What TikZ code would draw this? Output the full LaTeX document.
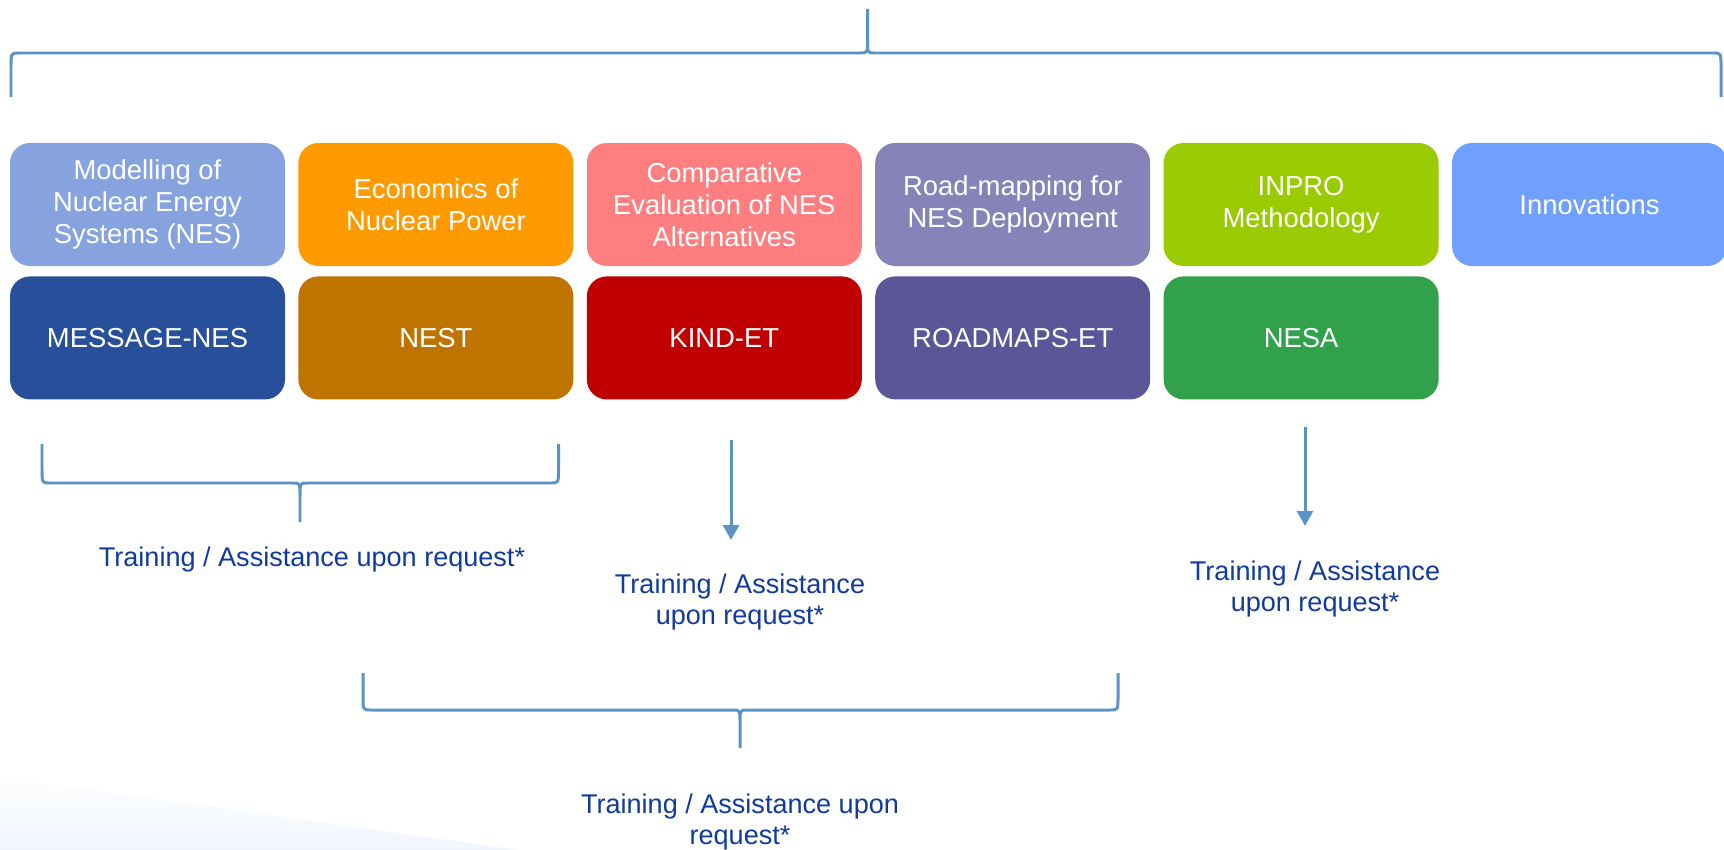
\documentclass[tikz,border=0pt]{standalone}
\usepackage{fontspec}
\setmainfont{Liberation Sans}
\usetikzlibrary{arrows.meta,positioning}

\definecolor{modelTop}{RGB}{134,163,224}
\definecolor{econTop}{RGB}{255,154,0}
\definecolor{compTop}{RGB}{255,127,128}
\definecolor{roadTop}{RGB}{135,131,184}
\definecolor{inproTop}{RGB}{153,203,0}
\definecolor{innovTop}{RGB}{112,160,255}
\definecolor{messageBot}{RGB}{40,80,154}
\definecolor{nestBot}{RGB}{191,116,0}
\definecolor{kindBot}{RGB}{192,0,0}
\definecolor{roadmapsBot}{RGB}{92,85,151}
\definecolor{nesaBot}{RGB}{50,161,75}
\definecolor{braceblue}{RGB}{91,147,201}
\definecolor{noteblue}{RGB}{16,58,158}
\definecolor{glow}{RGB}{226,237,251}

\begin{document}
\begin{tikzpicture}[>=Stealth,
    box/.style={rounded corners=0.2cm, minimum width=2.75cm, minimum height=1.23cm,
        inner sep=0pt, text=white, align=center, font=\fontsize{7.8}{9.1}\selectfont},
    note/.style={text=noteblue, align=center, inner sep=0pt, font=\fontsize{7.7}{9.1}\selectfont},
    brace/.style={draw=braceblue, line width=0.85pt},
    arrow/.style={-{Triangle[width=0.16cm, length=0.15cm]}, draw=braceblue, line width=0.85pt}]
    \useasboundingbox (0,0) rectangle (17.24,-8.49);
    \begin{scope}
        \clip (0,0) rectangle (17.24,-8.49);
        \shade[rotate around={-8:(0,-7.77)}, top color=white, bottom color=glow] (-1,-7.77) rectangle (6,-8.6);
    \end{scope}

    % top row: topics
    \node[box, fill=modelTop] (model) at (1.475,-2.045) {Modelling of\\Nuclear Energy\\Systems (NES)};
    \node[box, fill=econTop, right=0.12cm of model] (econ) {Economics of\\Nuclear Power};
    \node[box, fill=compTop, right=0.12cm of econ] (comp) {Comparative\\Evaluation of NES\\Alternatives};
    \node[box, fill=roadTop, right=0.12cm of comp] (road) {Road-mapping for\\NES Deployment};
    \node[box, fill=inproTop, right=0.12cm of road] (inpro) {INPRO\\Methodology};
    \node[box, fill=innovTop, right=0.12cm of inpro] (innov) {Innovations};

    % second row: tools
    \node[box, fill=messageBot, below=0.09cm of model] (message) {MESSAGE-NES};
    \node[box, fill=nestBot, below=0.09cm of econ] (nest) {NEST};
    \node[box, fill=kindBot, below=0.09cm of comp] (kind) {KIND-ET};
    \node[box, fill=roadmapsBot, below=0.09cm of road] (roadmaps) {ROADMAPS-ET};
    \node[box, fill=nesaBot, below=0.09cm of inpro] (nesa) {NESA};

    % braces
    \draw[brace] (0.11,-0.97) -- (0.11,-0.67) .. controls (0.11,-0.53) .. (0.19,-0.53) -- (8.605,-0.53)
        .. controls (8.675,-0.53) .. (8.675,-0.39) -- (8.675,-0.09) -- (8.675,-0.39)
        .. controls (8.675,-0.53) .. (8.745,-0.53) -- (17.13,-0.53) .. controls (17.21,-0.53) .. (17.21,-0.67) -- (17.21,-0.97);
    \draw[brace] (0.42,-4.44) -- (0.42,-4.69) .. controls (0.42,-4.83) .. (0.50,-4.83) -- (2.93,-4.83)
        .. controls (3.0,-4.83) .. (3.0,-4.97) -- (3.0,-5.22) -- (3.0,-4.97)
        .. controls (3.0,-4.83) .. (3.07,-4.83) -- (5.505,-4.83) .. controls (5.585,-4.83) .. (5.585,-4.69) -- (5.585,-4.44);
    \draw[brace] (3.63,-6.73) -- (3.63,-6.96) .. controls (3.63,-7.10) .. (3.71,-7.10) -- (7.33,-7.10)
        .. controls (7.40,-7.10) .. (7.40,-7.24) -- (7.40,-7.48) -- (7.40,-7.24)
        .. controls (7.40,-7.10) .. (7.47,-7.10) -- (11.10,-7.10) .. controls (11.18,-7.10) .. (11.18,-6.96) -- (11.18,-6.73);

    % training notes
    \node[note] (help1) at (3.12,-5.59) {Training / Assistance upon request*};
    \node[note] (help2) at (7.40,-6.02) {Training / Assistance\\upon request*};
    \node[note] (help3) at (13.15,-5.89) {Training / Assistance\\upon request*};
    \node[note] (help4) at (7.40,-8.22) {Training / Assistance upon\\request*};

    \coordinate (kindFrom) at (7.31,-4.40);
    \coordinate (kindTo) at (7.31,-5.40);
    \coordinate (nesaFrom) at (13.05,-4.27);
    \coordinate (nesaTo) at (13.05,-5.26);
    \draw[arrow] (kindFrom) -- (kindTo);
    \draw[arrow] (nesaFrom) -- (nesaTo);
\end{tikzpicture}
\end{document}
